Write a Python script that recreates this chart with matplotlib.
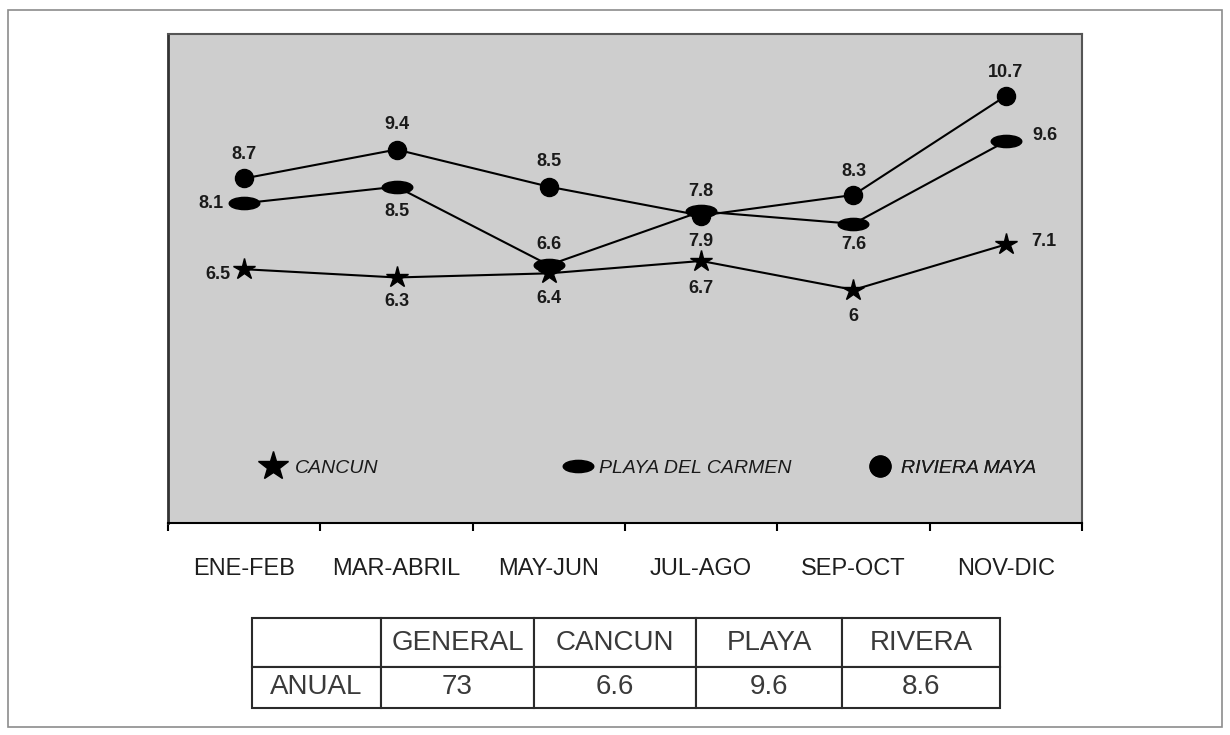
import matplotlib
matplotlib.use('Agg')
import matplotlib.pyplot as plt
import numpy as np
from matplotlib.path import Path
from matplotlib.transforms import Affine2D
from matplotlib.lines import Line2D
from matplotlib.patches import Rectangle
from matplotlib import font_manager


# ----------------------------- datos -----------------------------
periodos = ['ENE-FEB', 'MAR-ABRIL', 'MAY-JUN', 'JUL-AGO', 'SEP-OCT', 'NOV-DIC']
cancun   = [6.5, 6.3, 6.4, 6.7, 6.0, 7.1]
playa    = [8.1, 8.5, 6.6, 7.9, 7.6, 9.6]
riviera  = [8.7, 9.4, 8.5, 7.8, 8.3, 10.7]

tabla_cols = ['', 'GENERAL', 'CANCUN', 'PLAYA', 'RIVERA']
tabla_anual = ['ANUAL', '73', '6.6', '9.6', '8.6']

# desplazamiento de las etiquetas (puntos)
off_cancun  = [(-19, -4), (0, -17), (0, -18), (0, -20), (0, -19), (27, 2)]
off_playa   = [(-24, 0), (0, -18), (0, 15), (0, -22), (0, -15), (28, 4)]
off_riviera = [(0, 17), (0, 18), (0, 18), (0, 17), (0, 17), (0, 17)]


# --------------------------- fuentes -----------------------------
disponibles = {f.name for f in font_manager.fontManager.ttflist}
base = 'Liberation Sans' if 'Liberation Sans' in disponibles else 'DejaVu Sans'
angosta = 'Liberation Sans Narrow' if 'Liberation Sans Narrow' in disponibles else base
plt.rcParams['font.family'] = [base, 'DejaVu Sans']

# marcador ovalado para Playa del Carmen
ovalo = Path.unit_circle().transformed(Affine2D().scale(1, 0.4))

fig = plt.figure(figsize=(12.3, 7.35), dpi=100)

# marco exterior
fig.patches.append(Rectangle((8/1230, 8/735), 1214/1230, 717/735, transform=fig.transFigure,
                             fill=False, edgecolor='#8c8c8c', linewidth=1.2))

ax = fig.add_axes([168/1230, 1 - 523/735, 914/1230, 489/735])
ax.set_facecolor('#cecece')

x = np.arange(len(periodos))
series = [
  (cancun,  '*',   16,  off_cancun),
  (playa,   ovalo, 22,  off_playa),
  (riviera, 'o',   13,  off_riviera),
]
for valores, mk, ms, offs in series:
  ax.plot(x, valores, color='black', linewidth=1.5, marker=mk, markersize=ms,
          markerfacecolor='black', markeredgecolor='black', zorder=3)
  for xi, v, o in zip(x, valores, offs):
    ax.annotate('{:g}'.format(v), (xi, v), xytext=o, textcoords='offset points',
                ha='center', va='center', fontsize=13, fontweight='bold', color='#1a1a1a', zorder=4)

ax.set_xlim(-0.5, 5.5)
ax.set_ylim(0.35, 12.2)
ax.set_yticks([])

ax.set_xticks(np.arange(-0.5, 6, 1))
ax.set_xticklabels([])
ax.set_xticks(x, minor=True)
ax.set_xticklabels(periodos, minor=True, fontsize=17, color='#1e1e1e')
ax.tick_params(axis='x', which='major', direction='out', length=6, width=1.5, color='black')
ax.tick_params(axis='x', which='minor', length=0, pad=25)

for lado in ['top', 'right']:
  ax.spines[lado].set_color('#555555')
  ax.spines[lado].set_linewidth(1.5)
ax.spines['left'].set_color('#333333')
ax.spines['left'].set_linewidth(2)
ax.spines['bottom'].set_color('black')
ax.spines['bottom'].set_linewidth(1.5)


# ---------------------------- leyenda ----------------------------
def leyenda(nombre, mk, ms, xpos):
  h = Line2D([], [], linestyle='none', marker=mk, markersize=ms, color='black')
  lg = ax.legend([h], [nombre], loc='center left', bbox_to_anchor=(xpos, 0.1125),
                 frameon=False, handlelength=1.6, handletextpad=0.3, borderpad=0, borderaxespad=0,
                 prop={'family': angosta, 'style': 'italic', 'size': 14})
  for t in lg.get_texts():
    t.set_color('#1a1a1a')
  ax.add_artist(lg)

leyenda('CANCUN', '*', 22, 0.098)
leyenda('PLAYA DEL CARMEN', ovalo, 22, 0.4316)
leyenda('RIVIERA MAYA', 'o', 15, 0.762)


# ----------------------------- tabla -----------------------------
axt = fig.add_axes([252/1230, 1 - 708/735, 748/1230, 90/735])
axt.axis('off')
tabla = axt.table(cellText=[tabla_cols, tabla_anual], colWidths=[129, 153, 162, 146, 158],
                  cellLoc='center', bbox=[0, 0, 1, 1])
tabla.auto_set_font_size(False)
tabla.set_fontsize(20)
for (r, c), celda in tabla.get_celld().items():
  celda.set_edgecolor('#2a2a2a')
  celda.set_linewidth(1.5)
  celda.set_height(49 if r == 0 else 41)
  celda.get_text().set_color('#3a3a3a')

fig.savefig('out.png', dpi=100, facecolor='white')
